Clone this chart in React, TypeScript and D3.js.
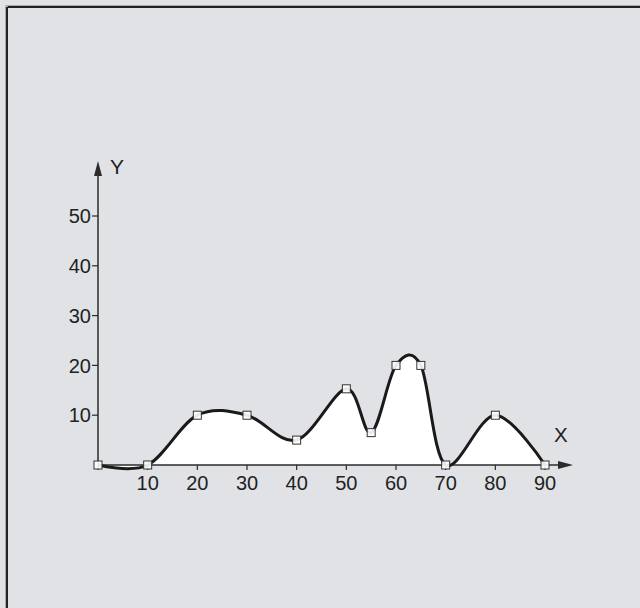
import React from "react";
import * as d3 from "d3";

const xValues = [0, 10, 20, 30, 40, 50, 55, 60, 65, 70, 80, 90];
const yValues = [0, 0, 10, 10, 5, 15.3, 6.5, 20, 20, 0, 10, 0];
const xTicks = [10, 20, 30, 40, 50, 60, 70, 80, 90];
const yTicks = [10, 20, 30, 40, 50];

export default function App() {
  const W = 640, H = 608;
  const x = d3.scaleLinear().domain([0, 90]).range([98, 545]);
  const y = d3.scaleLinear().domain([0, 50]).range([465, 216]);
  const pts: [number, number][] = xValues.map((v, i) => [x(v), y(yValues[i])]);
  const curve = d3.curveCatmullRom.alpha(0);
  const line = d3.line().curve(curve)(pts) || "";
  const area = d3.area<[number, number]>().x(d => d[0]).y0(y(0)).y1(d => d[1]).curve(curve)(pts) || "";
  const font = "'Liberation Sans', Arial, sans-serif";
  const ax = "#2b2b2b";
  return (
    <svg width={W} height={H} style={{ position: "absolute", left: 0, top: 0 }}>
      <rect x={0} y={0} width={W} height={H} fill="#e1e2e6" />
      <line x1={5.5} y1={5.5} x2={W} y2={5.5} stroke="#aaa" strokeWidth={1} />
      <line x1={5.5} y1={5.5} x2={5.5} y2={H} stroke="#aaa" strokeWidth={1} />
      <line x1={7.5} y1={7} x2={W} y2={7} stroke="#222" strokeWidth={2} />
      <line x1={7} y1={7} x2={7} y2={H} stroke="#222" strokeWidth={2} />
      <path d={area} fill="#ffffff" />
      <line x1={x(0)} y1={y(0)} x2={x(0)} y2={172} stroke={ax} strokeWidth={1.5} />
      <path d={`M${x(0)},161 L${x(0) - 4},176 L${x(0) + 4},176 Z`} fill={ax} />
      <line x1={x(0)} y1={y(0)} x2={560} y2={y(0)} stroke={ax} strokeWidth={1.5} />
      <path d={`M573,${y(0)} L558,${y(0) - 4} L558,${y(0) + 4} Z`} fill={ax} />
      {yTicks.map(t => (
        <g key={"y" + t}>
          <line x1={x(0) - 6} x2={x(0)} y1={y(t)} y2={y(t)} stroke={ax} strokeWidth={1.2} />
          <text x={x(0) - 7} y={y(t)} dy="0.36em" textAnchor="end" fontSize={20} fontFamily={font} fill="#222">{t}</text>
        </g>
      ))}
      {[0, ...xTicks].map(t => (
        <line key={"xt" + t} x1={x(t)} x2={x(t)} y1={y(0)} y2={y(0) + 5} stroke={ax} strokeWidth={1.2} />
      ))}
      {xTicks.map(t => (
        <text key={"x" + t} x={x(t)} y={490} textAnchor="middle" fontSize={20} fontFamily={font} fill="#222">{t}</text>
      ))}
      <text x={110} y={174} fontSize={21} fontFamily={font} fill="#222">Y</text>
      <text x={554} y={442} fontSize={20.5} fontFamily={font} fill="#222">X</text>
      <path d={line} fill="none" stroke="#1a1a1a" strokeWidth={3} />
      {pts.map((p, i) => (
        <rect key={"m" + i} x={p[0] - 4} y={p[1] - 4} width={8} height={8} fill="#fff" fillOpacity={0.9} stroke="#333" strokeWidth={1} />
      ))}
    </svg>
  );
}
